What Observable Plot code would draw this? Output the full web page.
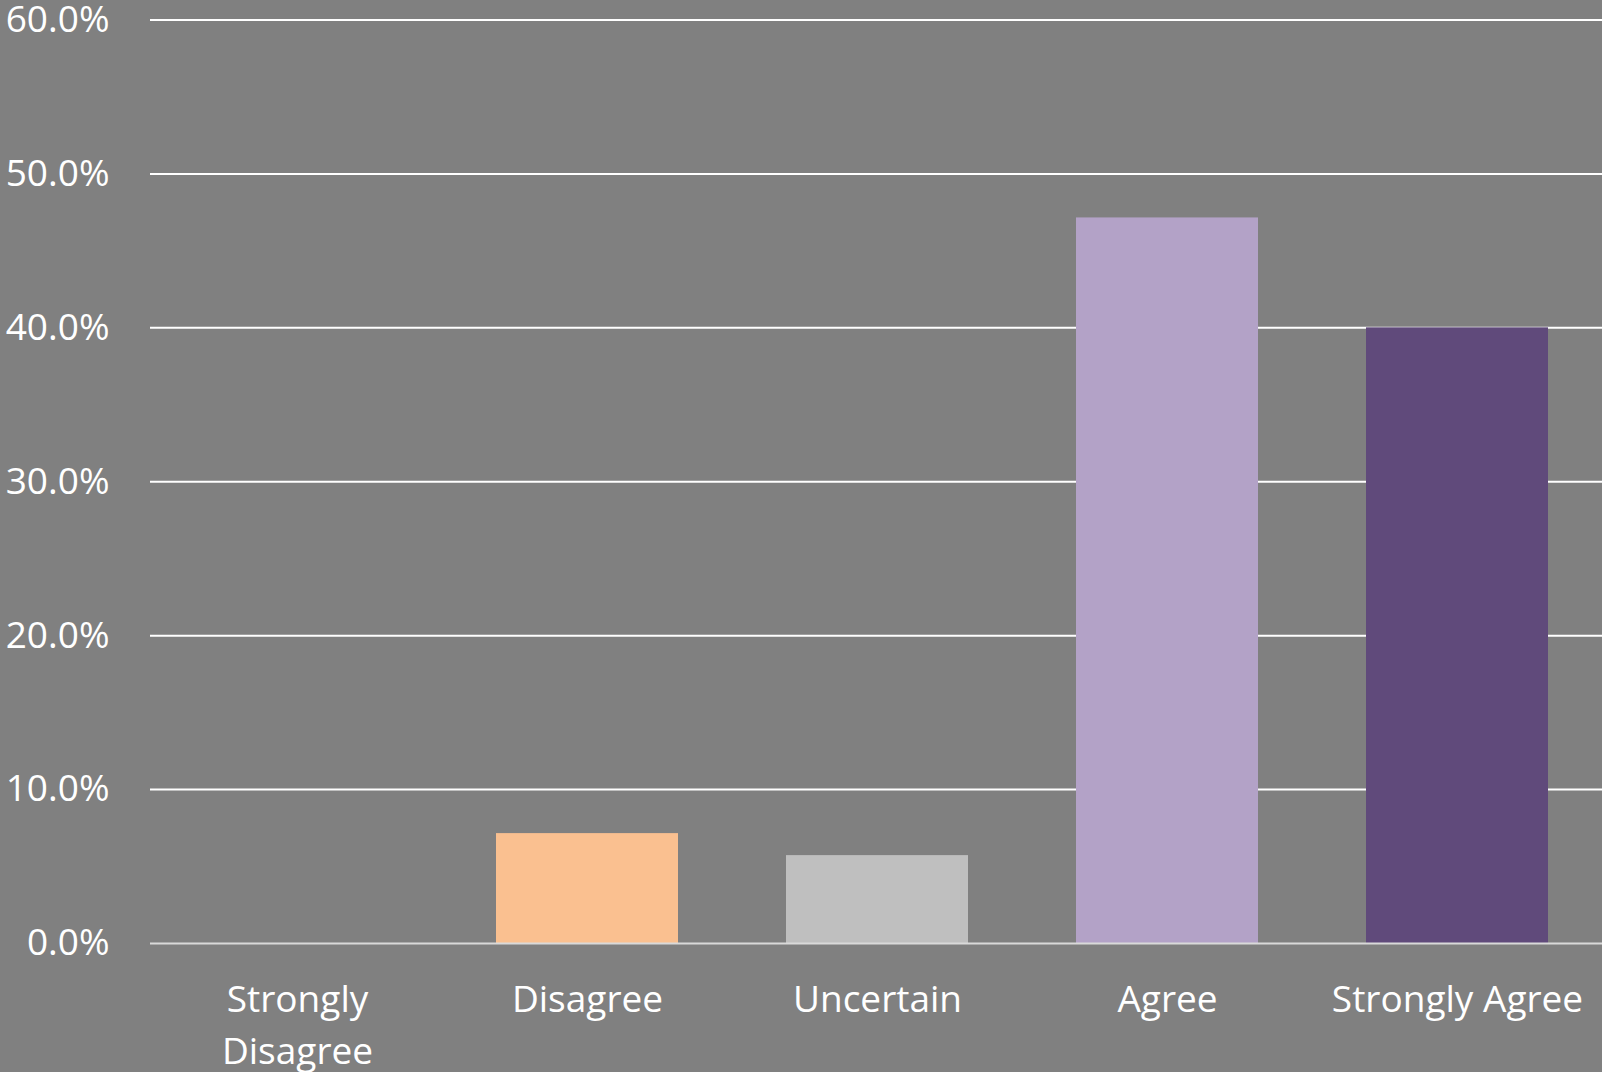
<!DOCTYPE html>
<html><head><meta charset="utf-8">
<script src="https://cdn.jsdelivr.net/npm/d3@7"></script>
<script src="https://cdn.jsdelivr.net/npm/@observablehq/plot@0.6"></script>
<style>html,body{margin:0;padding:0;background:#808080;overflow:hidden}</style>
</head><body><div id="chart"></div>
<script>
const categories = ["Strongly Disagree", "Disagree", "Uncertain", "Agree", "Strongly Agree"];
const tickLabels = ["Strongly\nDisagree", "Disagree", "Uncertain", "Agree", "Strongly Agree"];
const values = [0, 0.0714, 0.0571, 0.4714, 0.40];
const colors = ["#808080", "#FAC090", "#BFBFBF", "#B3A2C7", "#604A7B"];
const yTicks = [0, 0.1, 0.2, 0.3, 0.4, 0.5, 0.6];

const data = categories.map((c, i) => ({category: c, value: values[i]}));

const chart = Plot.plot({
  width: 1602, height: 1072,
  marginLeft: 150, marginRight: 0, marginTop: 19.5, marginBottom: 129,
  style: {background: "#808080", color: "white", fontFamily: "'Open Sans', sans-serif", fontSize: "37px"},
  x: {domain: categories, paddingInner: 0.373, paddingOuter: 0.182, align: 0.51, label: null},
  y: {domain: [0, 0.6], label: null},
  color: {domain: categories, range: colors},
  marks: [
    Plot.gridY(yTicks.slice(1), {stroke: "white", strokeOpacity: 1, strokeWidth: 2}),
    Plot.barY(data, {x: "category", y: "value", fill: "category"}),
    Plot.ruleY([0], {stroke: "#D9D9D9", strokeWidth: 2}),
    Plot.axisY(yTicks, {tickFormat: d => (d * 100).toFixed(1) + "%", tickSize: 0, tickPadding: 41, fill: "white", fontSize: 37, label: null}),
    Plot.axisX({tickFormat: d => tickLabels[categories.indexOf(d)], tickSize: 0, tickPadding: 32, fill: "white", fontSize: 37, lineHeight: 1.4, label: null})
  ]
});
document.getElementById("chart").appendChild(chart);
</script>
</body></html>
